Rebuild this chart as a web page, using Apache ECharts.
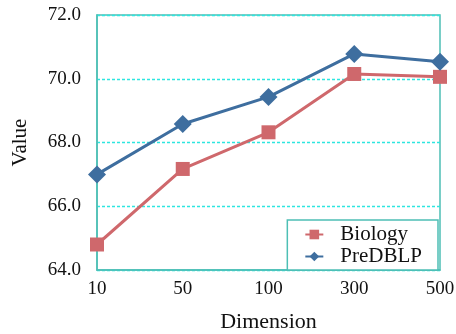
<!DOCTYPE html>
<html>
<head>
<meta charset="utf-8">
<script src="https://cdn.jsdelivr.net/npm/echarts@6/dist/echarts.min.js"></script>
<style>
  html, body { margin: 0; padding: 0; background: #fff; }
  #chart { width: 456px; height: 334px; }
</style>
</head>
<body>
<div id="chart"></div>
<script>
// data
const dimensions = ["10", "50", "100", "300", "500"];
const biology = [64.8, 67.17, 68.32, 70.15, 70.06];
const predblp = [67.0, 68.58, 69.43, 70.78, 70.53];

const frameColor = "#4dbfb5";
const font = "Liberation Serif";

const chart = echarts.init(document.getElementById("chart"));

const option = {
  animation: false,
  grid: {
    left: 97,
    right: 16,
    top: 15,
    bottom: 64,
    outerBoundsMode: "none",
    show: true,
    borderColor: frameColor,
    borderWidth: 1.5
  },
  legend: {
    right: 18,
    bottom: 64,
    orient: "vertical",
    backgroundColor: "#fff",
    borderColor: frameColor,
    borderWidth: 1.5,
    padding: [4, 16, 3, 17],
    itemGap: 1,
    itemWidth: 18,
    itemHeight: 12,
    textStyle: { fontFamily: font, fontSize: 21, color: "#111", padding: [0, 0, 0, 12] },
    data: ["Biology", "PreDBLP"]
  },
  xAxis: {
    type: "category",
    data: dimensions,
    boundaryGap: false,
    name: "Dimension",
    nameLocation: "middle",
    nameGap: 41,
    nameTextStyle: { fontFamily: font, fontSize: 22, color: "#111" },
    axisLine: { lineStyle: { color: frameColor, width: 1.5 } },
    axisTick: { show: false },
    axisLabel: { fontFamily: font, fontSize: 19, color: "#111", margin: 10 },
    splitLine: { show: false }
  },
  yAxis: {
    type: "value",
    min: 64,
    max: 72,
    interval: 2,
    name: "Value",
    nameLocation: "middle",
    nameGap: 66,
    nameTextStyle: { fontFamily: font, fontSize: 21, color: "#111" },
    axisLine: { show: true, lineStyle: { color: frameColor, width: 1.5 } },
    axisTick: { show: false },
    axisLabel: {
      fontFamily: font, fontSize: 19, color: "#111", margin: 16,
      formatter: v => v.toFixed(1)
    },
    splitLine: { lineStyle: { color: "#2ee6e0", type: [3, 2], width: 1.4 } }
  },
  series: [
    {
      name: "Biology",
      type: "line",
      data: biology,
      symbol: "rect",
      symbolSize: 14,
      lineStyle: { color: "#cf686c", width: 3 },
      itemStyle: { color: "#cf686c" }
    },
    {
      name: "PreDBLP",
      type: "line",
      data: predblp,
      symbol: "diamond",
      symbolSize: 18,
      lineStyle: { color: "#3e6e9f", width: 3 },
      itemStyle: { color: "#3e6e9f" }
    }
  ]
};

chart.setOption(option);
</script>
</body>
</html>
